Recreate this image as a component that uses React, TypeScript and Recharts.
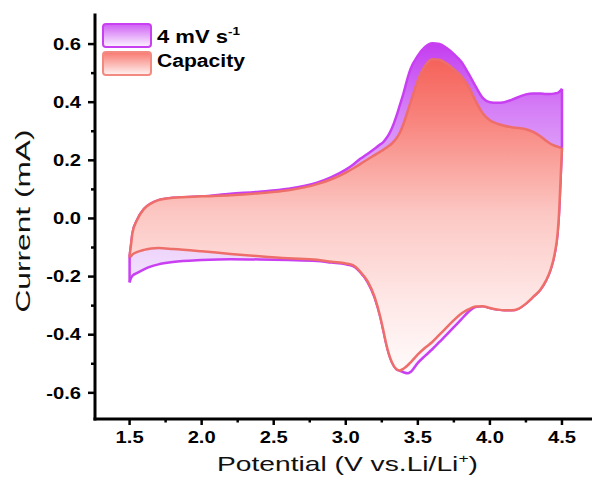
import { ComposedChart, Area, Line, XAxis, YAxis, Legend } from "recharts";

// Potential grid (V vs. Li/Li+) shared by both branches of each loop
const potential = [
  1.5, 1.51, 1.52, 1.55, 1.6, 1.65, 1.7, 1.8, 2.0, 2.2, 2.4, 2.6, 2.8, 2.9,
  3.0, 3.05, 3.1, 3.15, 3.2, 3.24, 3.26, 3.28, 3.3, 3.32, 3.35, 3.375, 3.4,
  3.43, 3.45, 3.5, 3.55, 3.6, 3.65, 3.7, 3.75, 3.8, 3.85, 3.9, 3.95, 4.0,
  4.05, 4.1, 4.15, 4.2, 4.25, 4.3, 4.35, 4.39, 4.42, 4.45, 4.47, 4.48, 4.49,
  4.5,
];

// 4 mV/s scan, current in mA
const scanAnodic = [
  -0.13, -0.09, -0.05, -0.007, 0.033, 0.052, 0.063, 0.071, 0.076, 0.085,
  0.092, 0.102, 0.123, 0.142, 0.168, 0.185, 0.205, 0.222, 0.24, 0.255, 0.263,
  0.275, 0.29, 0.31, 0.35, 0.39, 0.43, 0.485, 0.515, 0.56, 0.59, 0.603, 0.6,
  0.586, 0.565, 0.54, 0.5, 0.455, 0.415, 0.4, 0.398, 0.4, 0.408, 0.418, 0.427,
  0.43, 0.43, 0.428, 0.428, 0.43, 0.432, 0.435, 0.44, 0.446,
];
const scanCathodic = [
  -0.22, -0.205, -0.197, -0.188, -0.175, -0.165, -0.158, -0.15, -0.143, -0.14,
  -0.141, -0.143, -0.146, -0.152, -0.158, -0.164, -0.185, -0.218, -0.272,
  -0.34, -0.384, -0.43, -0.468, -0.495, -0.518, -0.524, -0.529, -0.533,
  -0.528, -0.497, -0.473, -0.45, -0.425, -0.4, -0.374, -0.348, -0.322, -0.305,
  -0.302, -0.308, -0.313, -0.316, -0.316, -0.31, -0.293, -0.27, -0.245,
  -0.213, -0.178, -0.12, -0.05, 0.02, 0.13, 0.243,
];

// Capacitive contribution, current in mA
const capacityAnodic = [
  -0.13, -0.09, -0.05, -0.007, 0.033, 0.052, 0.063, 0.071, 0.076, 0.08, 0.087,
  0.097, 0.118, 0.135, 0.158, 0.172, 0.187, 0.203, 0.218, 0.23, 0.236, 0.243,
  0.25, 0.258, 0.275, 0.295, 0.325, 0.37, 0.4, 0.475, 0.525, 0.548, 0.546,
  0.533, 0.513, 0.49, 0.455, 0.405, 0.362, 0.338, 0.326, 0.319, 0.314, 0.311,
  0.307, 0.298, 0.283, 0.267, 0.257, 0.25, 0.247, 0.245, 0.244, 0.243,
];
const capacityCathodic = [
  -0.135, -0.13, -0.124, -0.116, -0.108, -0.103, -0.102, -0.105, -0.113,
  -0.122, -0.13, -0.137, -0.142, -0.149, -0.155, -0.161, -0.183, -0.215,
  -0.27, -0.34, -0.384, -0.43, -0.468, -0.495, -0.518, -0.523, -0.517,
  -0.505, -0.495, -0.468, -0.445, -0.425, -0.4, -0.375, -0.35, -0.328,
  -0.313, -0.303, -0.302, -0.308, -0.313, -0.316, -0.316, -0.31, -0.293,
  -0.27, -0.245, -0.213, -0.178, -0.12, -0.05, 0.02, 0.13, 0.243,
];

const xTicks = [1.5, 1.75, 2, 2.25, 2.5, 2.75, 3, 3.25, 3.5, 3.75, 4, 4.25, 4.5, 4.75];
const yTicks = [-0.6, -0.5, -0.4, -0.3, -0.2, -0.1, 0, 0.1, 0.2, 0.3, 0.4, 0.5, 0.6];

const FONT = "Arial, 'Liberation Sans', sans-serif";
const SCAN_STROKE = "#c93ff2";
const CAP_STROKE = "#ee6e69";

// the figure's lettering is wider than plain Arial
const STRETCH = 1.26;
const labelLength = (s: string, size: number) =>
  [...s].reduce((w, c) => w + (c === "-" ? 0.333 : c === "." ? 0.278 : 0.556), 0) * size * STRETCH;

const rows = potential.map((v, k) => ({
  v,
  scan: [scanCathodic[k], scanAnodic[k]],
  cap: [capacityCathodic[k], capacityAnodic[k]],
}));

// vertical closing segments at the vertex potentials
const last = potential.length - 1;
const edge = (hi: number[], lo: number[], k: number) => [
  { v: potential[k], i: hi[k] },
  { v: potential[k], i: lo[k] },
];
const scanLeftEdge = edge(scanAnodic, scanCathodic, 0);
const scanRightEdge = edge(scanAnodic, scanCathodic, last);
const capLeftEdge = edge(capacityAnodic, capacityCathodic, 0);
const capRightEdge = edge(capacityAnodic, capacityCathodic, last);

function XTick({ x, y, payload }: any) {
  const v = payload.value as number;
  const major = Math.round(v * 4) % 2 === 0;
  const label = v.toFixed(1);
  return (
    <g>
      <line x1={x} x2={x} y1={y} y2={y + (major ? 6 : 3.5)} stroke="#000" strokeWidth={2.5} />
      {major && (
        <text x={x} y={y + 23.5} textAnchor="middle" fontFamily={FONT} fontWeight={700} fontSize={16}
          textLength={labelLength(label, 16)} lengthAdjust="spacingAndGlyphs" fill="#000">
          {label}
        </text>
      )}
    </g>
  );
}

function YTick({ x, y, payload }: any) {
  const v = payload.value as number;
  const major = Math.round(v * 10) % 2 === 0;
  const label = v.toFixed(1);
  return (
    <g>
      <line x1={x} x2={x - (major ? 7 : 4)} y1={y} y2={y} stroke="#000" strokeWidth={2.5} />
      {major && (
        <text x={x - 14} y={y + 5.7} textAnchor="end" fontFamily={FONT} fontWeight={700} fontSize={16}
          textLength={labelLength(label, 16)} lengthAdjust="spacingAndGlyphs" fill="#000">
          {label}
        </text>
      )}
    </g>
  );
}

function XTitle({ viewBox }: any) {
  const cx = viewBox.x + viewBox.width / 2 + 1;
  return (
    <text x={cx} y={viewBox.y + 52} textAnchor="middle" fontFamily={FONT} fontSize={21}
      textLength={261} lengthAdjust="spacingAndGlyphs" fill="#111">
      Potential (V vs.Li/Li<tspan dy={-8} fontSize={13}>+</tspan><tspan dy={8}>)</tspan>
    </text>
  );
}

function YTitle({ viewBox }: any) {
  const cy = viewBox.y + viewBox.height / 2 + 4;
  return (
    <text x={30} y={cy} transform={`rotate(-90 30 ${cy})`} textAnchor="middle" fontFamily={FONT}
      fontSize={21} textLength={183} lengthAdjust="spacingAndGlyphs" fill="#111">
      Current (mA)
    </text>
  );
}

function LegendBox() {
  return (
    <svg width={170} height={62} style={{ display: "block" }}>
      <defs>
        <linearGradient id="scanKey" x1="0" y1="0" x2="0" y2="1">
          <stop offset="0" stopColor="#cf5ff4" />
          <stop offset="1" stopColor="#fcf4ff" />
        </linearGradient>
        <linearGradient id="capKey" x1="0" y1="0" x2="0" y2="1">
          <stop offset="0" stopColor="#f8786f" />
          <stop offset="1" stopColor="#fff3f2" />
        </linearGradient>
      </defs>
      <rect x={4} y={5} width={48} height={23} rx={3} fill="url(#scanKey)" stroke={SCAN_STROKE} strokeWidth={2} />
      <rect x={4} y={33} width={48} height={23} rx={3} fill="url(#capKey)" stroke="#f28a82" strokeWidth={2} />
      <text x={58} y={23.5} fontFamily={FONT} fontWeight={700} fontSize={18} textLength={83}
        lengthAdjust="spacingAndGlyphs" fill="#000">
        4 mV s<tspan dy={-8} fontSize={11}>-1</tspan>
      </text>
      <text x={58} y={48} fontFamily={FONT} fontWeight={700} fontSize={18} textLength={88}
        lengthAdjust="spacingAndGlyphs" fill="#000">
        Capacity
      </text>
    </svg>
  );
}

export default function App() {
  const axisLine = { stroke: "#000", strokeWidth: 3, strokeLinecap: "square" as const };
  return (
    <div style={{ position: "fixed", left: 0, top: 0, width: 592, height: 488, overflow: "hidden", background: "#fff" }}>
      <ComposedChart width={620} height={488} data={rows} margin={{ top: 15, right: 22, bottom: 0, left: 0 }}>
        <defs>
          <linearGradient id="scanFill" x1="0" y1="0" x2="0" y2="1">
            <stop offset="0" stopColor="#c43df0" />
            <stop offset="0.2" stopColor="#d57ff6" />
            <stop offset="0.5" stopColor="#e8c4fa" />
            <stop offset="0.7" stopColor="#f1dffc" />
            <stop offset="1" stopColor="#fcf7ff" />
          </linearGradient>
          <linearGradient id="capFill" x1="0" y1="0" x2="0" y2="1">
            <stop offset="0" stopColor="#f5625a" />
            <stop offset="0.2" stopColor="#f8857e" />
            <stop offset="0.5" stopColor="#fcc8c4" />
            <stop offset="0.77" stopColor="#fee7e6" />
            <stop offset="1" stopColor="#fffafa" />
          </linearGradient>
        </defs>
        <XAxis
          dataKey="v"
          type="number"
          domain={[1.26, 4.75]}
          allowDataOverflow
          ticks={xTicks}
          interval={0}
          height={69}
          tickSize={0}
          tickMargin={0}
          tickLine={false}
          tick={<XTick />}
          axisLine={axisLine}
          label={<XTitle />}
        />
        <XAxis
          xAxisId="top"
          orientation="top"
          dataKey="v"
          type="number"
          domain={[1.26, 4.75]}
          allowDataOverflow
          height={0}
          tick={false}
          tickLine={false}
          axisLine={axisLine}
        />
        <YAxis
          type="number"
          domain={[-0.69, 0.7]}
          allowDataOverflow
          ticks={yTicks}
          interval={0}
          width={95}
          tickSize={0}
          tickMargin={0}
          tickLine={false}
          tick={<YTick />}
          axisLine={axisLine}
          label={<YTitle />}
        />
        <Legend
          layout="vertical"
          align="center"
          verticalAlign="middle"
          wrapperStyle={{ top: 19, left: 99, width: 170, height: 62 }}
          content={() => <LegendBox />}
        />
        <Area
          type="monotone"
          dataKey="scan"
          stroke={SCAN_STROKE}
          strokeWidth={2.5}
          fill="url(#scanFill)"
          fillOpacity={1}
          dot={false}
          activeDot={false}
          legendType="none"
          isAnimationActive={false}
        />
        <Line data={scanLeftEdge} dataKey="i" stroke={SCAN_STROKE} strokeWidth={2.5} dot={false} activeDot={false} legendType="none" isAnimationActive={false} />
        <Line data={scanRightEdge} dataKey="i" stroke={SCAN_STROKE} strokeWidth={2.5} dot={false} activeDot={false} legendType="none" isAnimationActive={false} />
        <Area
          type="monotone"
          dataKey="cap"
          stroke={CAP_STROKE}
          strokeWidth={2.5}
          fill="url(#capFill)"
          fillOpacity={1}
          dot={false}
          activeDot={false}
          legendType="none"
          isAnimationActive={false}
        />
        <Line data={capLeftEdge} dataKey="i" stroke={CAP_STROKE} strokeWidth={2.5} dot={false} activeDot={false} legendType="none" isAnimationActive={false} />
        <Line data={capRightEdge} dataKey="i" stroke={CAP_STROKE} strokeWidth={2.5} dot={false} activeDot={false} legendType="none" isAnimationActive={false} />
      </ComposedChart>
    </div>
  );
}
